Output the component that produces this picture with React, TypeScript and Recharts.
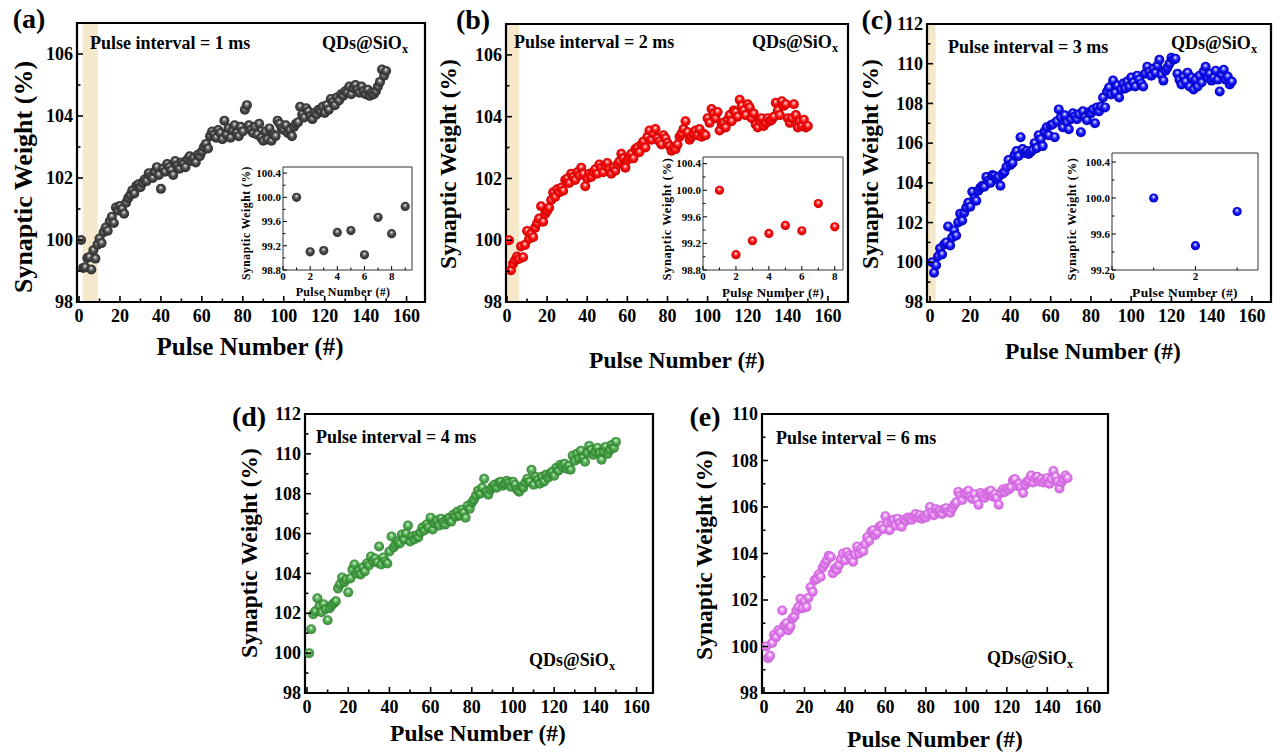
import React from "react";
import { ScatterChart, Scatter, XAxis, YAxis, ReferenceArea } from "recharts";

const FONT = '"Liberation Serif", "Times New Roman", serif';

// synaptic weight (%) vs pulse number, 150 pulses each
const weight1ms = [
  100.0, 99.1, 99.12, 99.42, 99.45, 99.05, 99.67, 99.4, 99.85, 100.05,
  99.9, 100.25, 100.4, 100.3, 100.6, 100.75, 100.55, 101.05, 100.95, 101.1,
  101.0, 100.85, 101.2, 101.35, 101.45, 101.6, 101.5, 101.75, 101.8, 101.7,
  101.85, 101.95, 101.9, 102.15, 102.05, 102.0, 102.2, 102.35, 102.1, 101.65,
  102.3, 102.2, 102.45, 102.35, 102.25, 102.1, 102.55, 102.4, 102.3, 102.5,
  102.45, 102.35, 102.6, 102.7, 102.55, 102.65, 102.5, 102.75, 102.7, 102.85,
  103.0, 103.1, 102.95, 103.35, 103.5, 103.4, 103.3, 103.55, 103.45, 103.25,
  103.85, 103.4, 103.6, 103.3, 103.55, 103.7, 103.45, 103.35, 103.65, 103.5,
  104.2, 104.35, 103.7, 103.55, 103.45, 103.65, 103.4, 103.75, 103.3, 103.2,
  103.5, 103.25, 103.6, 103.2, 103.4, 103.35, 103.85, 103.75, 103.6, 103.55,
  103.7, 103.45, 103.55, 103.35, 103.65, 103.75, 103.8, 104.3, 104.05, 103.95,
  104.25, 104.15, 104.0, 103.9, 104.1, 104.05, 104.2, 104.15, 104.3, 104.1,
  104.35, 104.2, 104.55, 104.45, 104.35, 104.6, 104.5, 104.7, 104.65, 104.8,
  104.75, 104.95, 104.7, 104.9, 105.0, 104.85, 104.75, 104.95, 104.8, 104.7,
  104.85, 104.65, 104.75, 104.7, 104.8, 104.95, 105.1, 105.5, 105.3, 105.45,
];

const weight2ms = [
  100.0, 99.03, 99.24, 99.35, 99.47, 99.39, 99.8, 99.45, 99.85, 100.3,
  100.05, 100.2, 100.1, 100.4, 100.55, 100.7, 101.1, 100.6, 100.85, 100.95,
  101.05, 101.3, 101.55, 101.4, 101.65, 101.55, 101.7, 101.6, 101.95, 102.0,
  101.85, 102.15, 102.05, 101.95, 102.2, 102.1, 102.35, 102.15, 101.75, 102.0,
  102.15, 102.05, 102.2, 102.3, 102.15, 102.45, 102.35, 102.2, 102.4, 102.5,
  102.3, 102.15, 102.35, 102.25, 102.45, 102.55, 102.8, 102.65, 102.35, 102.6,
  102.7, 102.8, 102.65, 102.95, 103.0, 102.85, 103.1, 103.2, 103.0, 103.35,
  103.55, 103.25, 103.45, 103.6, 103.3, 103.2, 103.1, 103.4, 103.3, 103.15,
  103.05, 102.9, 103.0, 102.95, 103.1, 103.35, 103.45, 103.6, 103.85, 103.5,
  103.25, 103.35, 103.45, 103.55, 103.4, 103.6, 103.35, 103.45, 103.4, 103.95,
  103.8, 104.25, 104.1, 103.95, 104.15, 103.55, 103.75, 103.8, 103.65, 103.9,
  104.05, 103.85, 104.2, 104.15, 104.0, 104.55, 104.35, 104.2, 104.05, 104.4,
  104.3, 103.95, 104.1, 103.75, 103.65, 103.85, 103.95, 103.7, 103.8, 103.95,
  103.85, 103.9, 104.0, 104.45, 104.2, 104.05, 104.5, 104.35, 104.4, 103.95,
  103.8, 103.95, 104.4, 104.05, 103.65, 103.85, 103.7, 103.9, 103.65, 103.7,
];

const weight3ms = [
  100.0, 99.47, 99.85, 100.3, 100.7, 100.4, 100.9, 101.0, 101.8, 100.85,
  101.25, 101.6, 101.35, 102.0, 102.45, 102.1, 102.5, 102.75, 103.0, 102.8,
  103.55, 103.2, 103.1, 103.6, 103.75, 103.85, 103.8, 104.3, 104.1, 104.0,
  104.4, 104.35, 104.2, 104.3, 103.85, 104.45, 104.55, 104.8, 105.15, 104.9,
  105.0, 105.4, 105.6, 105.35, 106.3, 105.7, 105.5, 105.6, 105.45, 105.55,
  105.65, 106.0, 105.75, 106.4, 106.2, 105.85, 106.6, 106.8, 106.4, 106.9,
  106.95, 106.3, 107.1, 107.7, 107.3, 106.8, 107.4, 107.05, 106.7, 107.2,
  107.5, 107.35, 107.2, 107.45, 106.55, 107.6, 107.3, 107.15, 107.55, 107.5,
  107.7, 107.0, 107.8, 107.6, 107.85, 108.3, 107.8, 108.6, 108.8, 108.45,
  109.15, 108.55, 108.9, 108.3, 108.7, 109.0, 108.75, 109.1, 108.85, 109.3,
  109.05, 108.85, 109.4, 109.2, 109.0, 108.85, 109.5, 109.85, 109.6, 109.4,
  109.75, 109.55, 109.9, 110.2, 109.45, 109.15, 109.65, 109.8, 110.0, 110.3,
  110.2, 110.25, 109.5, 109.2, 108.95, 109.35, 109.1, 109.55, 108.85, 109.3,
  108.7, 109.2, 108.85, 109.4, 109.05, 109.6, 109.85, 109.3, 109.5, 109.15,
  109.3, 109.65, 109.2, 108.6, 109.45, 109.7, 109.2, 109.35, 108.95, 109.1,
];

const weight4ms = [
  100.0, 101.2, 101.95, 102.1, 102.75, 102.35, 102.05, 102.45, 102.2, 101.65,
  102.25, 102.4, 102.5, 102.6, 103.25, 103.45, 103.8, 103.55, 103.7, 103.05,
  103.75, 104.2, 104.45, 104.0, 104.15, 103.95, 104.3, 104.1, 104.5, 104.4,
  104.85, 104.6, 104.75, 104.55, 105.35, 104.45, 104.8, 104.6, 104.5, 105.1,
  105.85, 105.3, 105.45, 105.6, 105.5, 105.95, 105.7, 106.0, 106.4, 105.6,
  105.85, 105.7, 105.9, 105.8, 106.05, 106.3, 106.15, 106.45, 106.3, 106.8,
  106.2, 106.5, 106.65, 106.4, 106.75, 106.55, 106.45, 106.7, 106.8, 106.6,
  106.95, 106.85, 107.1, 106.9, 107.2, 107.05, 106.8, 107.4, 107.25, 107.55,
  107.7, 107.9, 108.15, 108.0, 108.3, 108.75, 108.1, 107.95, 108.2, 108.35,
  108.45, 108.3, 108.55, 108.6, 108.4, 108.5, 108.65, 108.55, 108.35, 108.6,
  108.45, 108.2, 108.1, 108.35, 108.3, 108.55, 108.75, 108.6, 109.2, 108.45,
  108.85, 108.7, 108.5, 108.85, 108.6, 108.95, 108.8, 109.0, 109.1, 108.9,
  109.3, 109.15, 109.45, 109.35, 109.5, 109.25, 109.4, 109.2, 109.9, 109.65,
  110.0, 109.75, 110.15, 109.8, 109.6, 110.05, 110.4, 110.2, 109.95, 110.1,
  110.3, 110.05, 109.7, 110.1, 110.35, 110.0, 110.2, 110.45, 110.3, 110.6,
];

const weight6ms = [
  100.0, 99.5, 99.6, 100.15, 100.5, 100.4, 100.7, 100.6, 101.55, 100.9,
  101.0, 100.7, 100.85, 101.2, 101.3, 101.55, 101.7, 102.05, 101.65, 101.95,
  101.7, 102.1, 102.55, 102.35, 102.85, 102.9, 103.1, 103.0, 103.4, 103.55,
  103.7, 103.9, 103.85, 103.15, 103.35, 103.3, 103.5, 103.75, 104.0, 103.7,
  104.05, 103.9, 103.8, 103.65, 103.95, 104.3, 104.0, 104.2, 104.1, 104.4,
  104.7, 104.55, 104.95, 105.0, 104.8, 104.9, 105.15, 105.2, 105.05, 105.6,
  105.3, 105.0, 105.35, 105.45, 105.2, 105.5, 105.3, 105.15, 105.45, 105.4,
  105.55, 105.5, 105.45, 105.6, 105.7, 105.55, 105.65, 105.5, 105.6, 105.55,
  105.7, 106.0, 105.75, 105.65, 105.9, 105.8, 105.85, 105.7, 105.9, 105.95,
  105.8, 105.75, 105.95, 106.1, 106.2, 106.65, 106.5, 106.3, 106.55, 106.6,
  106.7, 106.45, 106.35, 106.55, 106.3, 106.1, 106.6, 106.5, 106.4, 106.55,
  106.65, 106.7, 106.45, 106.55, 106.4, 106.1, 106.6, 106.75, 106.65, 106.8,
  106.75, 106.85, 107.15, 107.2, 106.9, 107.0, 106.85, 106.6, 106.95, 107.1,
  107.15, 107.35, 107.05, 107.25, 107.3, 107.1, 107.2, 107.05, 107.15, 107.25,
  107.0, 107.2, 107.55, 107.3, 107.1, 106.8, 107.05, 107.2, 107.35, 107.25,
];

// insets: first few pulses
const inset1ms = [100.0, 99.1, 99.12, 99.42, 99.45, 99.05, 99.67, 99.4, 99.85];
const inset2ms = [100.0, 99.03, 99.24, 99.35, 99.47, 99.39, 99.8, 99.45];
const inset3ms = [100.0, 99.47, 99.85];

const xTicksMain = [0, 10, 20, 30, 40, 50, 60, 70, 80, 90, 100, 110, 120, 130, 140, 150, 160];
const yTicks107 = [98, 99, 100, 101, 102, 103, 104, 105, 106, 107];
const yTicks110 = [98, 99, 100, 101, 102, 103, 104, 105, 106, 107, 108, 109, 110];
const yTicks112 = [98, 99, 100, 101, 102, 103, 104, 105, 106, 107, 108, 109, 110, 111, 112];
const xTicksInset9 = [0, 1, 2, 3, 4, 5, 6, 7, 8, 9];
const xTicksInset8 = [0, 1, 2, 3, 4, 5, 6, 7, 8];
const xTicksInset3 = [0, 1, 2, 3];
const yTicksInset = [98.8, 99.0, 99.2, 99.4, 99.6, 99.8, 100.0, 100.2, 100.4];
const yTicksInsetC = [99.2, 99.4, 99.6, 99.8, 100.0, 100.2, 100.4];

const toPoints = (arr: number[]) => arr.map((w, i) => ({ pulse: i + 1, weight: w }));

type Ball = { id: string; light: string; mid: string; dark: string; opacity?: number };

const GRAY: Ball = { id: "gray", light: "#a8a8a8", mid: "#4c4c4c", dark: "#2c2c2c" };
const RED: Ball = { id: "red", light: "#ff9a9a", mid: "#ff1010", dark: "#cc0000" };
const BLUE: Ball = { id: "blue", light: "#9a9aff", mid: "#1818ff", dark: "#0000b8" };
const GREEN: Ball = { id: "green", light: "#9ad69a", mid: "#45a545", dark: "#2b7d2b", opacity: 0.92 };
const VIOLET: Ball = { id: "violet", light: "#f7d2fb", mid: "#e482f0", dark: "#c95fd8" };

interface PlotProps {
  name: string;
  box: { L: number; T: number; R: number; B: number };
  xDomain: [number, number];
  yDomain: [number, number];
  xTicks: number[];
  yTicks: number[];
  xLabel: (v: number) => boolean;
  yLabel: (v: number) => boolean;
  yFmt?: (v: number) => string;
  values: number[];
  ball: Ball;
  r: number;
  band?: [number, number];
  inset?: boolean;
}

function Plot({ name, box, xDomain, yDomain, xTicks, yTicks, xLabel, yLabel, yFmt, values, ball, r, band, inset }: PlotProps) {
  const ML = inset ? 40 : 60;
  const MB = inset ? 20 : 30;
  const MT = inset ? 8 : 14;
  const MR = 5;
  const W = box.R - box.L;
  const H = box.B - box.T;
  const plotBottom = MT + H;
  const fs = inset ? 11 : 18;
  const major = inset ? 4 : 6;
  const minor = inset ? 2.5 : 3.5;
  const tickW = inset ? 1 : 1.6;
  const gid = `ball-${name}`;

  const XTick = (p: any) => {
    const v = p.payload.value;
    const lab = xLabel(v);
    return (
      <g>
        <line x1={p.x} x2={p.x} y1={plotBottom} y2={plotBottom - (lab ? major : minor)} stroke="#000" strokeWidth={tickW} />
        {lab && (
          <text x={p.x} y={plotBottom + (inset ? 10 : 20)} textAnchor="middle" fontFamily={FONT} fontWeight="bold" fontSize={fs} fill="#000">
            {v}
          </text>
        )}
      </g>
    );
  };

  const YTick = (p: any) => {
    const v = p.payload.value;
    const lab = yLabel(v);
    return (
      <g>
        <line x1={ML} x2={ML + (lab ? major : minor)} y1={p.y} y2={p.y} stroke="#000" strokeWidth={tickW} />
        {lab && (
          <text x={ML - (inset ? 2 : 4)} y={p.y + fs * 0.34} textAnchor="end" fontFamily={FONT} fontWeight="bold" fontSize={fs} fill="#000">
            {yFmt ? yFmt(v) : v}
          </text>
        )}
      </g>
    );
  };

  const shape = (p: any) => {
    if (p.cx == null || p.cy == null) return <g />;
    return <circle cx={p.cx} cy={p.cy} r={r} fill={`url(#${gid})`} fillOpacity={ball.opacity ?? 1} />;
  };

  return (
    <div style={{ position: "absolute", left: box.L - ML, top: box.T - MT }}>
      <ScatterChart
        width={ML + W + MR}
        height={MT + H + MB}
        margin={{ top: MT, right: MR, bottom: 0, left: 0 }}
        style={{ overflow: "visible" }}
      >
        <defs>
          <radialGradient id={gid} cx="50%" cy="50%" r="50%" fx="48%" fy="34%">
            <stop offset="0%" stopColor="#ffffff" />
            <stop offset="18%" stopColor={ball.light} />
            <stop offset="52%" stopColor={ball.mid} />
            <stop offset="100%" stopColor={ball.dark} />
          </radialGradient>
        </defs>
        <XAxis
          type="number"
          dataKey="pulse"
          domain={xDomain}
          allowDataOverflow
          ticks={xTicks}
          interval={0}
          height={MB}
          axisLine={false}
          tickLine={false}
          tick={XTick}
        />
        <YAxis
          type="number"
          dataKey="weight"
          domain={yDomain}
          allowDataOverflow
          ticks={yTicks}
          interval={0}
          width={ML}
          axisLine={false}
          tickLine={false}
          tick={YTick}
        />
        {band && (
          <ReferenceArea x1={band[0]} x2={band[1]} y1={yDomain[0]} y2={yDomain[1]} fill="#f6e8cb" fillOpacity={1} stroke="none" ifOverflow="visible" />
        )}
        <ReferenceArea
          x1={xDomain[0]}
          x2={xDomain[1]}
          y1={yDomain[0]}
          y2={yDomain[1]}
          fill="none"
          stroke={inset ? "#333" : "#000"}
          strokeWidth={inset ? 1 : 2.2}
          ifOverflow="visible"
        />
        <Scatter data={toPoints(values)} shape={shape} isAnimationActive={false} />
      </ScatterChart>
    </div>
  );
}

function Txt({ x, y, size, anchor = "middle", rotate = false, spacing = 0, children }: any) {
  const tx = anchor === "start" ? "0" : anchor === "end" ? "-100%" : "-50%";
  return (
    <div
      style={{
        position: "absolute",
        left: x,
        top: y,
        transform: `translate(${tx}, -50%)${rotate ? " rotate(-90deg)" : ""}`,
        transformOrigin: rotate ? "center" : undefined,
        fontFamily: FONT,
        fontWeight: "bold",
        fontSize: size,
        letterSpacing: spacing,
        lineHeight: 1,
        whiteSpace: "nowrap",
        color: "#000",
      }}
    >
      {children}
    </div>
  );
}

const QDs = () => (
  <span>
    QDs@SiO<span style={{ fontSize: "0.68em", position: "relative", top: "0.3em" }}>x</span>
  </span>
);

const even = (v: number) => v % 2 === 0;
const by20 = (v: number) => v % 20 === 0;
const insetY = (v: number) => Math.round(v * 10) % 4 === 0;

export default function App() {
  return (
    <div style={{ position: "absolute", left: 0, top: 0, width: 1280, height: 756, background: "#fff", overflow: "hidden" }}>
      {/* (a) 1 ms */}
      <Plot name="a" box={{ L: 77, T: 23, R: 425, B: 302 }} xDomain={[-1, 169]} yDomain={[98, 107]}
        xTicks={xTicksMain} yTicks={yTicks107} xLabel={by20} yLabel={even}
        values={weight1ms} ball={GRAY} r={5} band={[1.8, 9.1]} />
      <Plot name="ai" inset box={{ L: 283, T: 167, R: 412, B: 270 }} xDomain={[0, 9.5]} yDomain={[98.8, 100.5]}
        xTicks={xTicksInset9} yTicks={yTicksInset} xLabel={even} yLabel={insetY} yFmt={(v) => v.toFixed(1)}
        values={inset1ms} ball={GRAY} r={4.6} />

      {/* (b) 2 ms */}
      <Plot name="b" box={{ L: 506, T: 24, R: 848, B: 302 }} xDomain={[-0.5, 170]} yDomain={[98, 107]}
        xTicks={xTicksMain} yTicks={yTicks107} xLabel={by20} yLabel={even}
        values={weight2ms} ball={RED} r={5} band={[-0.5, 6.1]} />
      <Plot name="bi" inset box={{ L: 703, T: 157, R: 843, B: 270 }} xDomain={[0, 8.5]} yDomain={[98.8, 100.5]}
        xTicks={xTicksInset8} yTicks={yTicksInset} xLabel={even} yLabel={insetY} yFmt={(v) => v.toFixed(1)}
        values={inset2ms} ball={RED} r={4.6} />

      {/* (c) 3 ms */}
      <Plot name="c" box={{ L: 927, T: 24, R: 1271, B: 302 }} xDomain={[-1.5, 169.5]} yDomain={[98, 112]}
        xTicks={xTicksMain} yTicks={yTicks112} xLabel={by20} yLabel={even}
        values={weight3ms} ball={BLUE} r={5} band={[-1.5, 2.8]} />
      <Plot name="ci" inset box={{ L: 1112, T: 153, R: 1258, B: 270 }} xDomain={[0, 3.5]} yDomain={[99.2, 100.5]}
        xTicks={xTicksInset3} yTicks={yTicksInsetC} xLabel={even} yLabel={insetY} yFmt={(v) => v.toFixed(1)}
        values={inset3ms} ball={BLUE} r={4.6} />

      {/* (d) 4 ms */}
      <Plot name="d" box={{ L: 305, T: 414, R: 653, B: 693 }} xDomain={[-1, 168]} yDomain={[98, 112]}
        xTicks={xTicksMain} yTicks={yTicks112} xLabel={by20} yLabel={even}
        values={weight4ms} ball={GREEN} r={5} />

      {/* (e) 6 ms */}
      <Plot name="e" box={{ L: 762, T: 414, R: 1108, B: 693 }} xDomain={[-1, 170]} yDomain={[98, 110]}
        xTicks={xTicksMain} yTicks={yTicks110} xLabel={by20} yLabel={even}
        values={weight6ms} ball={VIOLET} r={5} />

      {/* panel letters */}
      <Txt x={29} y={19} size={28}>(a)</Txt>
      <Txt x={473} y={20} size={28}>(b)</Txt>
      <Txt x={877} y={20} size={28}>(c)</Txt>
      <Txt x={249} y={417} size={28}>(d)</Txt>
      <Txt x={705} y={417} size={28}>(e)</Txt>

      {/* axis titles */}
      <Txt x={24} y={177} size={26} rotate>Synaptic Weight (%)</Txt>
      <Txt x={449} y={164} size={23.5} rotate>Synaptic Weight (%)</Txt>
      <Txt x={871} y={164} size={23.5} rotate>Synaptic Weight (%)</Txt>
      <Txt x={250} y={553} size={23.5} rotate>Synaptic Weight (%)</Txt>
      <Txt x={705} y={555} size={23.5} rotate>Synaptic Weight (%)</Txt>

      <Txt x={250} y={346} size={25}>Pulse Number (#)</Txt>
      <Txt x={677} y={361} size={23.5}>Pulse Number (#)</Txt>
      <Txt x={1093} y={352} size={23.5}>Pulse Number (#)</Txt>
      <Txt x={478} y={734} size={23.5}>Pulse Number (#)</Txt>
      <Txt x={935} y={740} size={23.5}>Pulse Number (#)</Txt>

      {/* inset titles */}
      <Txt x={247} y={223} size={11.5} spacing={0.6} rotate>Synaptic Weight (%)</Txt>
      <Txt x={343} y={292} size={12} spacing={0.3}>Pulse Number (#)</Txt>
      <Txt x={667} y={219} size={12.5} spacing={0.6} rotate>Synaptic Weight (%)</Txt>
      <Txt x={773} y={292} size={13} spacing={0.3}>Pulse Number (#)</Txt>
      <Txt x={1072} y={219} size={12.5} spacing={0.6} rotate>Synaptic Weight (%)</Txt>
      <Txt x={1185} y={293} size={13.5} spacing={0.3}>Pulse Number (#)</Txt>

      {/* annotations */}
      <Txt x={90} y={43} size={18} anchor="start">Pulse interval = 1 ms</Txt>
      <Txt x={514} y={42} size={18} anchor="start">Pulse interval = 2 ms</Txt>
      <Txt x={948} y={47} size={18} anchor="start">Pulse interval = 3 ms</Txt>
      <Txt x={316} y={437} size={18} anchor="start">Pulse interval = 4 ms</Txt>
      <Txt x={776} y={438} size={18} anchor="start">Pulse interval = 6 ms</Txt>

      <Txt x={408} y={43} size={18} anchor="end"><QDs /></Txt>
      <Txt x={838} y={42} size={18} anchor="end"><QDs /></Txt>
      <Txt x={1257} y={43} size={18} anchor="end"><QDs /></Txt>
      <Txt x={615} y={660} size={18} anchor="end"><QDs /></Txt>
      <Txt x={1073} y={658} size={18} anchor="end"><QDs /></Txt>
    </div>
  );
}
